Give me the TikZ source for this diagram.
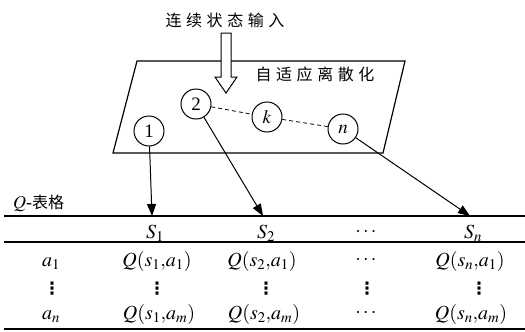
\documentclass[tikz,border=0pt]{standalone}
\usepackage{mathptmx}
\usepackage{fontspec}
\setmainfont{Liberation Serif}
\newfontfamily\cjk{Noto Sans CJK SC}
\newfontfamily\dvs{DejaVu Sans}
\usetikzlibrary{arrows.meta}
\newcommand\gp{\hspace{4.6pt}}
\tikzset{
  cn/.style={font=\cjk\fontsize{16}{16}\selectfont, inner sep=0pt},
  st/.style={draw, circle, line width=1pt, minimum size=30pt, inner sep=0pt, font=\fontsize{19}{19}\selectfont},
  arr/.style={line width=1pt, -{Triangle[length=12pt,width=9pt]}},
  dsh/.style={line width=0.8pt, dash pattern=on 4pt off 3pt},
  cell/.style={font=\fontsize{20}{20}\selectfont, inner sep=0pt, anchor=base},
  vd/.style={font=\dvs\bfseries\fontsize{17}{17}\selectfont, inner sep=0pt, anchor=base},
  rule/.style={line width=1.4pt}
}
\begin{document}
\begin{tikzpicture}[x=1pt,y=-1pt]
\useasboundingbox (0,0) rectangle (525,332);
% title
\node[cn] (title) at (225,20) {连\gp 续\gp 状\gp 态\gp 输\gp 入};
% parallelogram
\draw[line width=1.2pt] (137,61) -- (405,61) -- (383,153) -- (113,153) -- cycle;
\node[cn] (disc) at (315,74) {自\gp 适\gp 应\gp 离\gp 散\gp 化};
% hollow arrow
\draw[line width=1pt, fill=white] (221,33) -- (231,33) -- (231,77) -- (237,77) -- (226,93) -- (215,77) -- (221,77) -- cycle;
% state circles
\node[st] (c1) at (149,131) {1};
\node[st] (c2) at (196,104) {2};
\node[st] (ck) at (267,117) {$k$};
\node[st] (cn) at (343,129) {$n$};
\draw[dsh] (c2) -- (ck);
\draw[dsh] (ck) -- (cn);
% table
\node[font=\fontsize{18}{18}\selectfont, inner sep=0pt, anchor=base west] (qt) at (13,208) {$Q$-{\cjk\fontsize{16}{16}\selectfont 表格}};
\draw[rule] (4,216) -- (525,216);
\draw[line width=1.1pt] (4,242) -- (525,242);
\draw[rule] (4,329) -- (525,329);
\coordinate (t1) at (152,216);
\coordinate (t2) at (263,216);
\coordinate (tn) at (470,216);
\draw[arr] (c1) -- (t1);
\draw[arr] (c2) -- (t2);
\draw[arr] (cn) -- (tn);
% header
\node[cell] (h1) at (155,238) {$S_1$};
\node[cell] (h2) at (266,238) {$S_2$};
\node[cell] (hd) at (366,236) {$\cdots$};
\node[cell] (hn) at (473,238) {$S_n$};
% row a1
\node[cell] (r1a) at (51,266) {$a_1$};
\node[cell] (r11) at (157,266) {$Q(s_1{,}a_1)$};
\node[cell] (r12) at (262,266) {$Q(s_2{,}a_1)$};
\node[cell] (r1d) at (366,264) {$\cdots$};
\node[cell] (r1n) at (470,266) {$Q(s_n{,}a_1)$};
% vdots row
\node[vd] (r2a) at (52,294) {⋮};
\node[vd] (r21) at (157,294) {⋮};
\node[vd] (r22) at (266,294) {⋮};
\node[vd] (r2d) at (367,294) {⋮};
\node[vd] (r2n) at (479,294) {⋮};
% row an
\node[cell] (r3a) at (51,319) {$a_n$};
\node[cell] (r31) at (159,319) {$Q(s_1{,}a_m)$};
\node[cell] (r32) at (264,319) {$Q(s_2{,}a_m)$};
\node[cell] (r3d) at (366,317) {$\cdots$};
\node[cell] (r3n) at (471,319) {$Q(s_n{,}a_m)$};
\end{tikzpicture}
\end{document}
